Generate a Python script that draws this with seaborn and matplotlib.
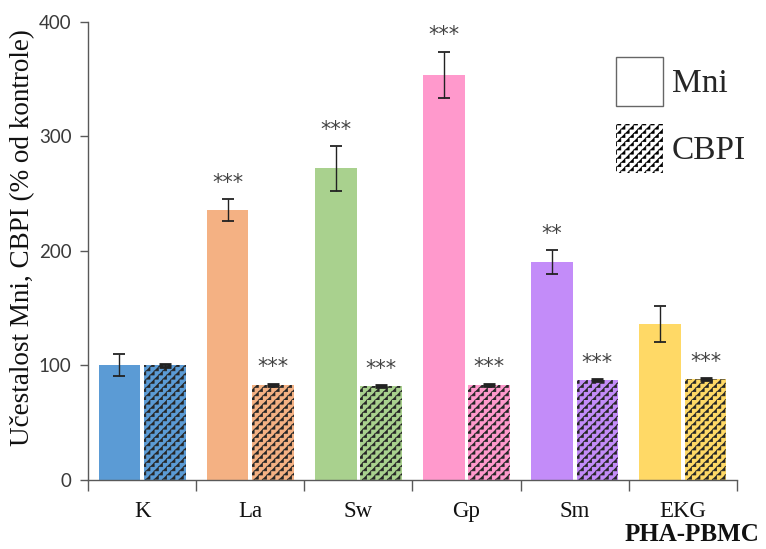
import warnings
warnings.filterwarnings('ignore')
import numpy as np
import pandas as pd
import matplotlib
matplotlib.use('Agg')
import matplotlib.pyplot as plt
import matplotlib.hatch as mhatch
from matplotlib.path import Path
from matplotlib.patches import Patch
import seaborn as sns

categories = ['K', 'La', 'Sw', 'Gp', 'Sm', 'EKG']
mni_values = [100, 236, 272, 354, 190, 136]
mni_errors = [9.5, 9.5, 19.5, 20, 10.5, 16]
cbpi_values = [100, 83, 82, 83, 87, 88]
cbpi_errors = [1, 1, 1, 1, 1, 1]
mni_stars = ['', '***', '***', '***', '**', '']
cbpi_stars = ['', '***', '***', '***', '***', '***']
bar_colors = ['#5B9BD5', '#F4B183', '#A9D18E', '#FF99CC', '#C38CF9', '#FFD966']
series = ['Mni', 'CBPI']


class StepHatch(mhatch.HatchPatternBase):
    def __init__(self, hatch, density):
        n = hatch.count('z') * 4
        if n % 2:
            n += 1
        self.n = n
        self.starts = list(range(-n, n + 1, 2)) if n else []
        self.num_vertices = len(self.starts) * (2 * n + 1) if n else 0

    def set_vertices_and_codes(self, vertices, codes):
        s = 1.0 / self.n
        i = 0
        for k in self.starts:
            x, y = k * s, 0.0
            vertices[i] = (x, y)
            codes[i] = Path.MOVETO
            i += 1
            for _ in range(self.n):
                x += s
                vertices[i] = (x, y)
                codes[i] = Path.LINETO
                i += 1
                y += s
                vertices[i] = (x, y)
                codes[i] = Path.LINETO
                i += 1


mhatch._hatch_types.append(StepHatch)
HATCH = 'zzzzzz'

sns.set_theme(style='white')
plt.rcParams['hatch.linewidth'] = 0.5
serif = 'Liberation Serif'

df = pd.DataFrame({
    'cat': categories * 2,
    'val': mni_values + cbpi_values,
    'err': mni_errors + cbpi_errors,
    'type': [series[0]] * len(categories) + [series[1]] * len(categories),
})

fig = plt.figure(figsize=(7.66, 5.49), dpi=100)
ax = fig.add_axes([0.115, 0.126, 0.847, 0.834])

sns.barplot(data=df, x='cat', y='val', hue='type', palette=['#cccccc', '#cccccc'],
            errorbar=None, width=0.84, gap=0.08, ax=ax, legend=False)

err_lists = [mni_errors, cbpi_errors]
star_lists = [mni_stars, cbpi_stars]
bar_conts = list(ax.containers)
for si, cont in enumerate(bar_conts):
    for ci, bar in enumerate(cont.patches):
        bar.set_facecolor(bar_colors[ci])
        if si == 1:
            bar.set_hatch(HATCH)
            bar.set_edgecolor('#262626')
            bar.set_linewidth(0)
        else:
            bar.set_edgecolor(bar_colors[ci])
            bar.set_linewidth(0)
        xc = bar.get_x() + bar.get_width() / 2
        h = bar.get_height()
        e = err_lists[si][ci]
        ax.errorbar(xc, h, yerr=e, fmt='none', ecolor='#222222', elinewidth=1.0,
                    capsize=4.5, capthick=1.3 if si == 0 else 2.0, zorder=5)
        st = star_lists[si][ci]
        if st:
            ax.text(xc, h + e + 9, st, ha='center', va='baseline', fontsize=15,
                    color='#444444', family='DejaVu Sans')

ax.set_xlim(-0.5, len(categories) - 0.5)
ax.set_ylim(0, 400)
ax.set_yticks([0, 100, 200, 300, 400])
ax.set_yticklabels(['0', '100', '200', '300', '400'], family='Lato', fontsize=13.5, color='#3a3a3a')
ax.set_xticks(range(len(categories)))
ax.set_xticklabels(categories, family=serif, fontsize=16.5, color='#111111')
ax.set_xticks(np.arange(-0.5, len(categories), 1.0), minor=True)
ax.tick_params(axis='x', which='major', length=0, pad=15)
ax.tick_params(axis='x', which='minor', length=8, width=1, color='#595959', direction='out', bottom=True)
ax.tick_params(axis='y', which='major', length=6, width=1, color='#595959', direction='out', left=True, pad=6)
for sp in ['top', 'right']:
    ax.spines[sp].set_visible(False)
for sp in ['left', 'bottom']:
    ax.spines[sp].set_color('#595959')
    ax.spines[sp].set_linewidth(1)
ax.set_xlabel('')
ax.set_ylabel('Učestalost Mni, CBPI (% od kontrole)', family=serif, fontsize=19.5,
              color='#111111')
ax.yaxis.set_label_coords(-0.082, 0.53)

handles = [Patch(facecolor='white', edgecolor='#666666', linewidth=1),
           Patch(facecolor='white', edgecolor='black', linewidth=0, hatch=HATCH)]
fig.legend(handles, series, loc='upper left', bbox_to_anchor=(0.804, 0.896),
           frameon=False, prop={'family': serif, 'size': 24},
           handlelength=1.4, handleheight=1.9, labelspacing=0.52, handletextpad=0.27,
           borderaxespad=0, borderpad=0)

fig.text(0.903, 0.026, 'PHA-PBMC', ha='center', va='center', family=serif,
         fontsize=18, fontweight='bold', color='#111111')

fig.savefig('out.png', dpi=100, facecolor='white')
